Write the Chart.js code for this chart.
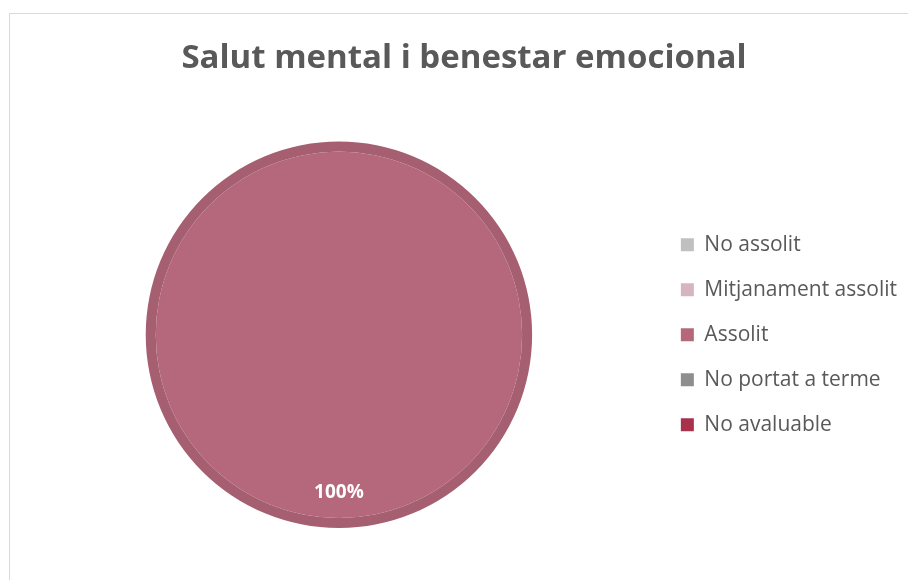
<!DOCTYPE html>
<html>
<head>
<meta charset="utf-8">
<script src="https://cdn.jsdelivr.net/npm/chart.js@4"></script>
<style>
    html, body { margin: 0; padding: 0; background: #fff; overflow: hidden; }
    #frame {
        position: absolute; left: 9px; top: 13px;
        width: 918px; height: 600px;
        border: 1px solid #d9d9d9;
    }
</style>
</head>
<body>
<div id="frame"><canvas id="pie"></canvas></div>
<script>
var categories = ['No assolit', 'Mitjanament assolit', 'Assolit', 'No portat a terme', 'No avaluable'];
var values = [0, 0, 100, 0, 0];
var colors = ['#bfc0bf', '#d6b5bf', '#b5687b', '#8c8f8c', '#a8314b'];
var edgeColors = ['#a9aaa9', '#c29fa9', '#a55f71', '#7b7e7b', '#952a41'];
var chartTitle = 'Salut mental i benestar emocional';

// writes the percentage inside each slice
var sliceLabels = {
    id: 'sliceLabels',
    afterDatasetsDraw: function (chart) {
        var ctx = chart.ctx;
        var total = values.reduce(function (a, b) { return a + b; }, 0);
        var outer = chart.getDatasetMeta(0).data;
        chart.getDatasetMeta(1).data.forEach(function (arc, i) {
            if (!values[i]) return;
            var mid = (arc.startAngle + arc.endAngle) / 2;
            var r = outer[i].outerRadius * 0.815;
            ctx.save();
            ctx.fillStyle = '#ffffff';
            ctx.font = 'bold 19px "Open Sans"';
            ctx.textAlign = 'center';
            ctx.textBaseline = 'middle';
            ctx.fillText(Math.round(values[i] / total * 100) + '%', arc.x + Math.cos(mid) * r, arc.y + Math.sin(mid) * r);
            ctx.restore();
        });
    }
};

var ctx = document.getElementById('pie').getContext('2d');
var chart = new Chart(ctx, {
    type: 'pie',
    data: {
        labels: categories,
        datasets: [{
            // darker outer rim
            data: values,
            backgroundColor: edgeColors,
            borderWidth: 0,
            weight: 1
        }, {
            data: values,
            backgroundColor: colors,
            borderWidth: 0,
            weight: 18.3
        }]
    },
    options: {
        responsive: true,
        maintainAspectRatio: false,
        animation: false,
        layout: {
            padding: { left: 11, right: 21, top: 0, bottom: 86 }
        },
        plugins: {
            title: {
                display: true,
                text: chartTitle,
                color: '#595959',
                font: { family: '"Open Sans"', size: 33, weight: 'bold' },
                padding: { top: 25, bottom: 63 }
            },
            legend: {
                position: 'right',
                fullSize: false,
                labels: {
                    color: '#595959',
                    font: { family: '"Open Sans"', size: 21 },
                    boxWidth: 13,
                    boxHeight: 13,
                    padding: 24,
                    generateLabels: function (chart) {
                        return categories.map(function (c, i) {
                            return {
                                text: c,
                                fillStyle: colors[i],
                                strokeStyle: colors[i],
                                lineWidth: 0,
                                fontColor: '#595959',
                                hidden: false,
                                index: i
                            };
                        });
                    }
                }
            },
            tooltip: { enabled: false }
        }
    },
    plugins: [sliceLabels]
});
</script>
</body>
</html>
